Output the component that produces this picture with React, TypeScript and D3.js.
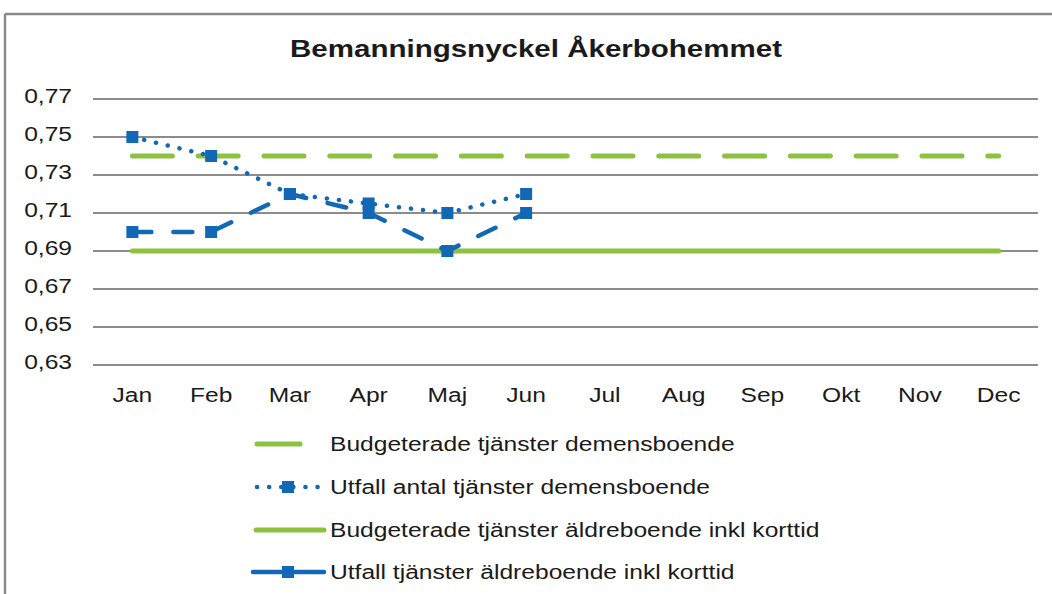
import React from "react";
import * as d3 from "d3";

const title = "Bemanningsnyckel Åkerbohemmet";
const months = ["Jan", "Feb", "Mar", "Apr", "Maj", "Jun", "Jul", "Aug", "Sep", "Okt", "Nov", "Dec"];
const yTicks = [0.63, 0.65, 0.67, 0.69, 0.71, 0.73, 0.75, 0.77];

const budgetDemens = [0.74, 0.74, 0.74, 0.74, 0.74, 0.74, 0.74, 0.74, 0.74, 0.74, 0.74, 0.74];
const utfallDemens = [0.75, 0.74, 0.72, 0.715, 0.71, 0.72];
const budgetAldre = [0.69, 0.69, 0.69, 0.69, 0.69, 0.69, 0.69, 0.69, 0.69, 0.69, 0.69, 0.69];
const utfallAldre = [0.70, 0.70, 0.72, 0.71, 0.69, 0.71];

const legendLabels = [
  "Budgeterade tjänster demensboende",
  "Utfall antal tjänster demensboende",
  "Budgeterade tjänster äldreboende inkl korttid",
  "Utfall tjänster äldreboende inkl korttid",
];

const GREEN = "#8CC23F";
const BLUE = "#1268B4";
const SX = 1.23;
const FONT = "'Liberation Sans', Arial, sans-serif";

export default function App() {
  const W = 1052, H = 594;
  const x = d3.scaleBand<string>().domain(months).range([93, 1038]);
  const y = d3.scaleLinear().domain([0.63, 0.77]).range([365, 99]);
  const cx = (m: string) => (x(m) as number) + x.bandwidth() / 2;
  const line = d3
    .line<number>()
    .x((_, i) => cx(months[i]))
    .y((d) => y(d));

  const txt = (s: string, tx: number, ty: number, anchor: string, size = 20, weight = "normal", key?: any) => (
    <text
      key={key}
      transform={`translate(${tx},${ty}) scale(${SX},1)`}
      textAnchor={anchor}
      fontSize={size}
      fontWeight={weight}
      fontFamily={FONT}
      fill="#1a1a1a"
    >
      {s}
    </text>
  );

  const marker = (px: number, py: number, key?: any) => (
    <rect key={key} x={px - 6} y={py - 6} width={12} height={12} fill={BLUE} />
  );

  const legY = [444, 487, 530, 572];

  return (
    <svg width={W} height={H} style={{ position: "absolute", left: 0, top: 0, background: "#fff" }}>
      <rect x={0} y={0} width={W} height={H} fill="#fff" />
      <line x1={5} y1={14} x2={W} y2={14} stroke="#8a8a8a" strokeWidth={2.5} />
      <line x1={5} y1={14} x2={5} y2={H} stroke="#8a8a8a" strokeWidth={2.5} />

      {txt(title, 536, 57, "middle", 24, "bold")}

      {yTicks.map((t, i) => (
        <g key={i}>
          <line x1={93} x2={1038} y1={y(t)} y2={y(t)} stroke="#8c8c8c" strokeWidth={2} />
          {txt(t.toFixed(2).replace(".", ","), 72, y(t) + 4, "end", 20, "normal")}
        </g>
      ))}

      {months.map((m, i) => txt(m, cx(m), 402, "middle", 20, "normal", i))}

      <path d={line(budgetAldre) || ""} fill="none" stroke={GREEN} strokeWidth={5} strokeLinecap="round" />
      <path
        d={line(budgetDemens) || ""}
        fill="none"
        stroke={GREEN}
        strokeWidth={5}
        strokeLinecap="round"
        strokeDasharray="40 25.8"
      />
      <path
        d={line(utfallAldre) || ""}
        fill="none"
        stroke={BLUE}
        strokeWidth={4.5}
        strokeLinecap="round"
        strokeDasharray="19 22"
      />
      <path
        d={line(utfallDemens) || ""}
        fill="none"
        stroke={BLUE}
        strokeWidth={4.5}
        strokeLinecap="round"
        strokeDasharray="0.1 12"
      />
      {utfallAldre.map((v, i) => marker(cx(months[i]), y(v), "a" + i))}
      {utfallDemens.map((v, i) => marker(cx(months[i]), y(v), "d" + i))}

      {/* legend */}
      <line x1={257} x2={300} y1={legY[0]} y2={legY[0]} stroke={GREEN} strokeWidth={5} strokeLinecap="round" />
      <line
        x1={257}
        x2={320}
        y1={legY[1]}
        y2={legY[1]}
        stroke={BLUE}
        strokeWidth={4.5}
        strokeLinecap="round"
        strokeDasharray="0.1 12"
      />
      {marker(288, legY[1])}
      <line x1={256} x2={324} y1={legY[2]} y2={legY[2]} stroke={GREEN} strokeWidth={5} strokeLinecap="round" />
      <line x1={253} x2={324} y1={legY[3]} y2={legY[3]} stroke={BLUE} strokeWidth={4.5} strokeLinecap="round" />
      {marker(288, legY[3])}
      {legendLabels.map((l, i) => txt(l, 330, legY[i] + 7, "start", 20, "normal", "l" + i))}
    </svg>
  );
}
